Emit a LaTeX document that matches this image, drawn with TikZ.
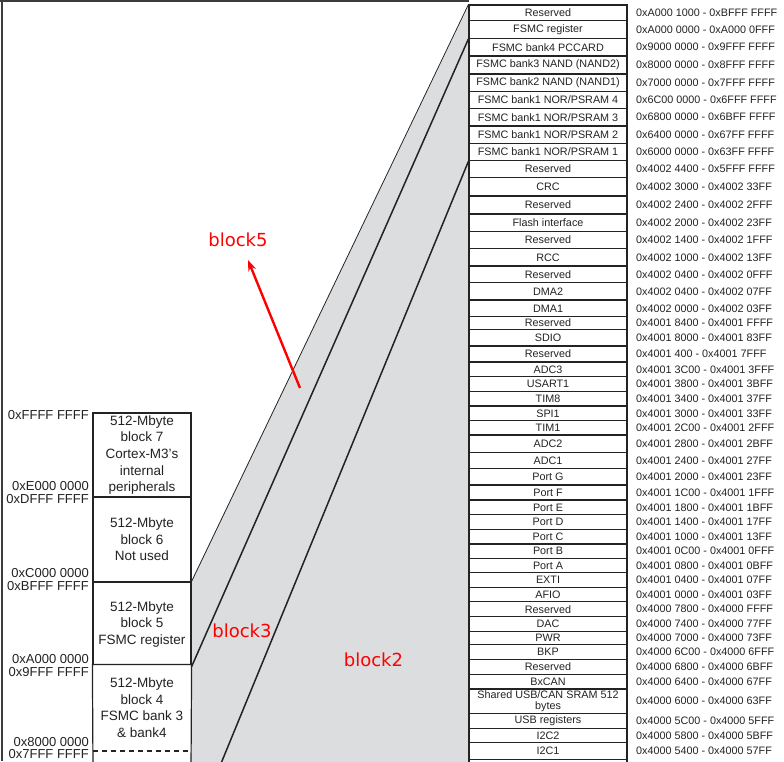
\documentclass[tikz,border=0pt]{standalone}
\usepackage{fontspec}
\setmainfont{Liberation Sans}
\newfontfamily\redfont{DejaVu Sans}
\usetikzlibrary{arrows.meta}
\definecolor{bggray}{RGB}{220,221,223}
\definecolor{ink}{RGB}{35,35,35}
\definecolor{frameink}{RGB}{60,60,60}
\tikzset{
  rowbox/.style={draw=ink, line width=1.1pt, fill=white, minimum width=158pt, inner sep=0pt, align=center, text=ink, font=\fontsize{10.8}{11}\selectfont},
  addr/.style={anchor=west, inner sep=0pt, text=ink, font=\fontsize{10.8}{11}\selectfont},
  lbox/.style={draw=ink, line width=1.2pt, fill=white, minimum width=98pt, inner sep=0pt, align=center, text=ink, font=\fontsize{13.5}{16.5}\selectfont},
  laddr/.style={anchor=east, inner sep=0pt, text=ink, font=\fontsize{13}{14}\selectfont},
  boxline/.style={draw=ink, line width=1.2pt},
  thinlink/.style={draw=ink, line width=0.8pt},
  thicklink/.style={draw=ink, line width=1.5pt},
  redlabel/.style={text=red, inner sep=0pt, font=\redfont\fontsize{18}{20}\selectfont},
  redarrow/.style={draw=red, line width=2.4pt, -{Stealth[length=11pt,width=8pt]}}
}
\newcommand\memrow[5]{%
  \node[rowbox, minimum height={(#3-#2)*1pt}] (r#1) at (548,{(#2+#3)/2}) {#4};
  \node[addr] (a#1) at (636,{(#2+#3)/2}) {#5};%
}
\begin{document}
\begin{tikzpicture}[x=1pt,y=-1pt]
\useasboundingbox (0,0) rectangle (784,761);
\clip (0,0) rectangle (784,761);
\fill[white] (0,0) rectangle (784,761);
% gray fan
\fill[bggray] (191,582) -- (469,5) -- (469,770) -- (191,770) -- cycle;
% frame
\draw[frameink, line width=2pt] (0,1) -- (469,1);
\draw[frameink, line width=2pt] (2,0) -- (2,761);
% table rows
\memrow{1}{5}{20.7}{Reserved}{0xA000 1000 - 0xBFFF FFFF}
\memrow{2}{20.7}{38.3}{FSMC register}{0xA000 0000 - 0xA000 0FFF}
\memrow{3}{38.3}{56}{FSMC bank4 PCCARD}{0x9000 0000 - 0x9FFF FFFF}
\memrow{4}{56}{74}{FSMC bank3 NAND (NAND2)}{0x8000 0000 - 0x8FFF FFFF}
\memrow{5}{74}{91.7}{FSMC bank2 NAND (NAND1)}{0x7000 0000 - 0x7FFF FFFF}
\memrow{6}{91.7}{108.3}{FSMC bank1 NOR/PSRAM 4}{0x6C00 0000 - 0x6FFF FFFF}
\memrow{7}{108.3}{126}{FSMC bank1 NOR/PSRAM 3}{0x6800 0000 - 0x6BFF FFFF}
\memrow{8}{126}{143.3}{FSMC bank1 NOR/PSRAM 2}{0x6400 0000 - 0x67FF FFFF}
\memrow{9}{143.3}{160.7}{FSMC bank1 NOR/PSRAM 1}{0x6000 0000 - 0x63FF FFFF}
\memrow{10}{160.7}{177.3}{Reserved}{0x4002 4400 - 0x5FFF FFFF}
\memrow{11}{177.3}{196}{CRC}{0x4002 3000 - 0x4002 33FF}
\memrow{12}{196}{214}{Reserved}{0x4002 2400 - 0x4002 2FFF}
\memrow{13}{214}{231.3}{Flash interface}{0x4002 2000 - 0x4002 23FF}
\memrow{14}{231.3}{248.7}{Reserved}{0x4002 1400 - 0x4002 1FFF}
\memrow{15}{248.7}{266}{RCC}{0x4002 1000 - 0x4002 13FF}
\memrow{16}{266}{282.7}{Reserved}{0x4002 0400 - 0x4002 0FFF}
\memrow{17}{282.7}{300}{DMA2}{0x4002 0400 - 0x4002 07FF}
\memrow{18}{300}{316.7}{DMA1}{0x4002 0000 - 0x4002 03FF}
\memrow{19}{316.7}{329.3}{Reserved}{0x4001 8400 - 0x4001 FFFF}
\memrow{20}{329.3}{346}{SDIO}{0x4001 8000 - 0x4001 83FF}
\memrow{21}{346}{362}{Reserved}{0x4001 400 - 0x4001 7FFF}
\memrow{22}{362}{376.7}{ADC3}{0x4001 3C00 - 0x4001 3FFF}
\memrow{23}{376.7}{391.3}{USART1}{0x4001 3800 - 0x4001 3BFF}
\memrow{24}{391.3}{406}{TIM8}{0x4001 3400 - 0x4001 37FF}
\memrow{25}{406}{420.7}{SPI1}{0x4001 3000 - 0x4001 33FF}
\memrow{26}{420.7}{435}{TIM1}{0x4001 2C00 - 0x4001 2FFF}
\memrow{27}{435}{452.3}{ADC2}{0x4001 2800 - 0x4001 2BFF}
\memrow{28}{452.3}{468.3}{ADC1}{0x4001 2400 - 0x4001 27FF}
\memrow{29}{468.3}{485}{Port G}{0x4001 2000 - 0x4001 23FF}
\memrow{30}{485}{500}{Port F}{0x4001 1C00 - 0x4001 1FFF}
\memrow{31}{500}{514.7}{Port E}{0x4001 1800 - 0x4001 1BFF}
\memrow{32}{514.7}{529.3}{Port D}{0x4001 1400 - 0x4001 17FF}
\memrow{33}{529.3}{544}{Port C}{0x4001 1000 - 0x4001 13FF}
\memrow{34}{544}{558.3}{Port B}{0x4001 0C00 - 0x4001 0FFF}
\memrow{35}{558.3}{572.7}{Port A}{0x4001 0800 - 0x4001 0BFF}
\memrow{36}{572.7}{587.3}{EXTI}{0x4001 0400 - 0x4001 07FF}
\memrow{37}{587.3}{601.7}{AFIO}{0x4001 0000 - 0x4001 03FF}
\memrow{38}{601.7}{616.7}{Reserved}{0x4000 7800 - 0x4000 FFFF}
\memrow{39}{616.7}{631.7}{DAC}{0x4000 7400 - 0x4000 77FF}
\memrow{40}{631.7}{644.3}{PWR}{0x4000 7000 - 0x4000 73FF}
\memrow{41}{644.3}{659.3}{BKP}{0x4000 6C00 - 0x4000 6FFF}
\memrow{42}{659.3}{674.3}{Reserved}{0x4000 6800 - 0x4000 6BFF}
\memrow{43}{674.3}{689}{BxCAN}{0x4000 6400 - 0x4000 67FF}
\memrow{44}{689}{713.3}{Shared USB/CAN SRAM 512\\bytes}{0x4000 6000 - 0x4000 63FF}
\memrow{45}{713.3}{728.3}{USB registers}{0x4000 5C00 - 0x4000 5FFF}
\memrow{46}{728.3}{742.7}{I2C2}{0x4000 5800 - 0x4000 5BFF}
\memrow{47}{742.7}{759.3}{I2C1}{0x4000 5400 - 0x4000 57FF}
\node[rowbox, minimum height=16pt] (r48) at (548,767.3) {};
% left blocks
\node[lbox, minimum height=84pt] (b7) at (142,455) {512-Mbyte\\block 7\\Cortex-M3's\\internal\\peripherals};
\node[lbox, minimum height=85pt] (b6) at (142,539.5) {512-Mbyte\\block 6\\Not used};
\node[lbox, minimum height=84pt] (b5) at (142,624) {512-Mbyte\\block 5\\FSMC register};
\node[lbox, draw=none, minimum height=85pt] (b4) at (142,707.5) {512-Mbyte\\block 4\\FSMC bank 3\\\& bank4};
\coordinate (bl) at (93,770);
\coordinate (br) at (191,770);
\draw[boxline] (bl) -- (b4.north west) -- (b4.north east) -- (br);
\draw[boxline, dashed, dash pattern=on 5pt off 4pt] (93,751) -- (191,751);
% left addresses
\node[laddr] (l1) at (89,415) {0xFFFF FFFF};
\node[laddr] (l2) at (89,486) {0xE000 0000};
\node[laddr] (l3) at (89,499.5) {0xDFFF FFFF};
\node[laddr] (l4) at (89,573.5) {0xC000 0000};
\node[laddr] (l5) at (89,586.5) {0xBFFF FFFF};
\node[laddr] (l6) at (89,659.5) {0xA000 0000};
\node[laddr] (l7) at (89,672) {0x9FFF FFFF};
\node[laddr] (l8) at (89,742.5) {0x8000 0000};
\node[laddr] (l9) at (89,754.3) {0x7FFF FFFF};
% fan lines
\coordinate (c3) at (217.9,771);
\draw[thinlink] (b5.north east) -- (r1.north west);
\draw[thicklink] (b5.south east) -- (r2.south west);
\draw[thicklink] (r9.south west) -- (c3);
% red annotations
\node[redlabel] (t5) at (238,240) {block5};
\node[redlabel] (t3) at (242,631) {block3};
\node[redlabel] (t2) at (373.5,660) {block2};
\coordinate (ar1) at (300,388);
\coordinate (ar2) at (248,260);
\draw[redarrow] (ar1) -- (ar2);
\end{tikzpicture}
\end{document}
